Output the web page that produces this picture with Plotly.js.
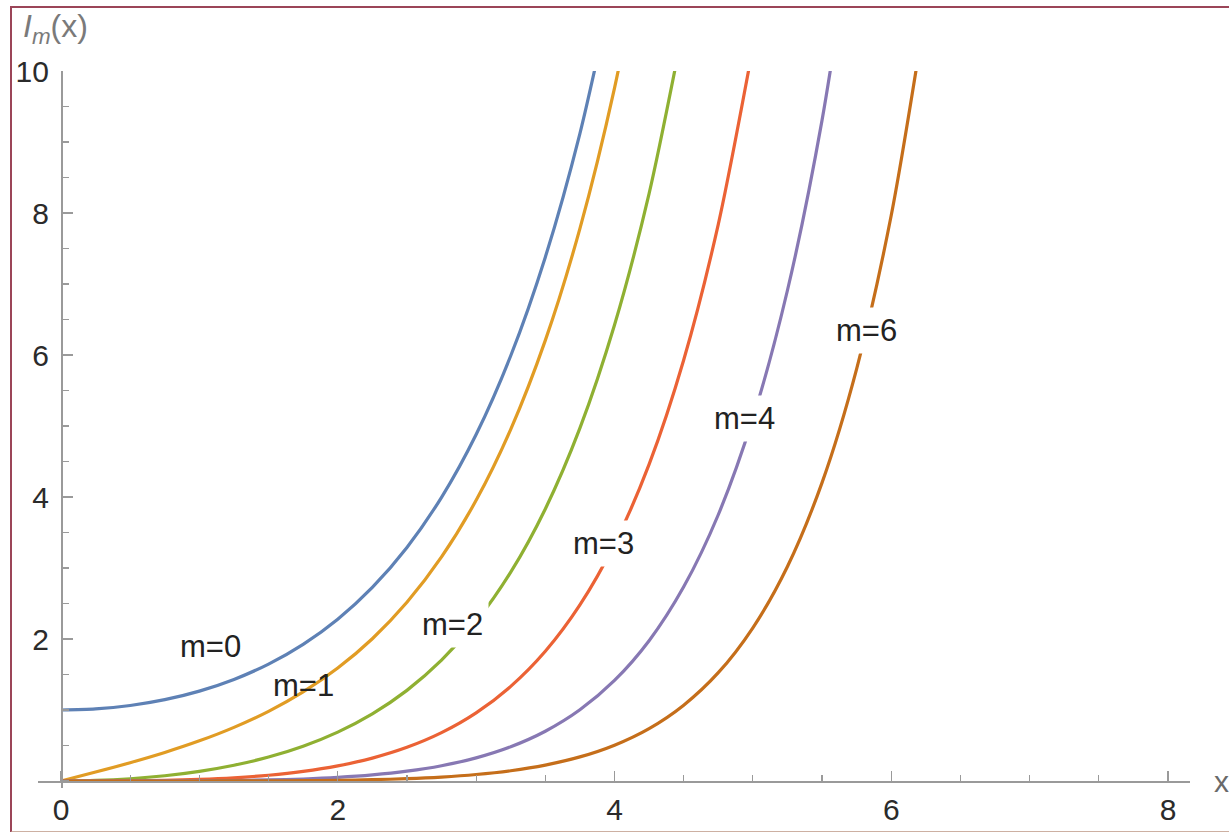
<!DOCTYPE html>
<html>
<head>
<meta charset="utf-8">
<script src="https://cdn.plot.ly/plotly-3.0.1.min.js"></script>
<style>
  html, body { margin: 0; padding: 0; background: #fff; overflow: hidden; }
  #wrap { position: relative; width: 1229px; height: 832px; }
  #chart { width: 1229px; height: 832px; }
  #frame { position: absolute; left: 10px; top: 6px; width: 1240px; height: 823px;
           border-left: 2px solid #9b4558; border-top: 2px solid #9b4558;
           border-bottom: 2px solid #cdb0a2; pointer-events: none; }
</style>
</head>
<body>
<div id="wrap">
  <div id="chart"></div>
  <div id="frame"></div>
</div>
<script>
// x sample points (shared by all curves)
const xs = [0, 0.25, 0.5, 0.75, 1, 1.25, 1.5, 1.75, 2, 2.25, 2.5, 2.75, 3, 3.25, 3.5, 3.75, 4, 4.25, 4.5, 4.75, 5, 5.25, 5.5, 5.75, 6, 6.25];

// curve values (null = beyond the top of the plot)
const m0 = [1, 1.0157, 1.0635, 1.1456, 1.2661, 1.4305, 1.6467, 1.9253, 2.2796, 2.7271, 3.2898, 3.9959, 4.8808, 5.9893, 7.3782, 9.1189, 11.3019, null, null, null, null, null, null, null, null, null];
const m1 = [0, 0.1260, 0.2579, 0.4020, 0.5652, 0.7553, 0.9817, 1.2555, 1.5906, 2.0040, 2.5167, 3.1554, 3.9534, 4.9525, 6.2058, 7.7800, 9.7595, 12.252, null, null, null, null, null, null, null, null];
const m2 = [0, 0.0079, 0.0319, 0.0737, 0.1357, 0.2220, 0.3378, 0.4904, 0.6889, 0.9458, 1.2764, 1.7011, 2.2452, 2.9416, 3.8320, 4.9696, 6.4222, 8.274, 10.642, null, null, null, null, null, null, null];
const m3 = [0, 0.0003, 0.0026, 0.0091, 0.0222, 0.0448, 0.0808, 0.1347, 0.2127, 0.3226, 0.4743, 0.6811, 0.9598, 1.3321, 1.8264, 2.4791, 3.3373, 4.460, 5.930, 7.841, 10.331, null, null, null, null, null];
const m4 = [0, 0.0000, 0.0002, 0.0009, 0.0027, 0.0069, 0.0147, 0.0284, 0.0507, 0.0855, 0.1380, 0.2150, 0.3257, 0.4824, 0.7010, 1.0030, 1.4163, 1.976, 2.7349, 3.750, 5.1082, 6.912, 9.308, 12.47, null, null];
const m6 = [0, 0.0000, 0.0000, 0.0001, 0.0003, 0.0008, 0.0022, 0.0049, 0.0098, 0.0185, 0.0328, 0.0558, 0.0912, 0.1447, 0.2240, 0.3393, 0.5047, 0.7383, 1.0681, 1.5255, 2.1580, 3.022, 4.203, 5.805, 7.9684, 10.874];

const seriesNames = ["m=0", "m=1", "m=2", "m=3", "m=4", "m=6"];
const seriesValues = [m0, m1, m2, m3, m4, m6];
const colors = ["#5E81B5", "#E19C24", "#8FB032", "#EB6235", "#8778B3", "#C56E1A"];

// curve label positions (data coords) and whether they mask the line
const labelX = [1.08, 1.75, 2.83, 3.92, 4.94, 5.82];
const labelY = [1.90, 1.34, 2.20, 3.35, 5.11, 6.34];
const labelMask = [false, false, true, true, true, true];

const xTickVals = [0, 2, 4, 6, 8];
const yTickVals = [2, 4, 6, 8, 10];

const xRange = [-0.1662, 8.159];
const yRange = [-0.0986, 10];

const traces = seriesValues.map((vals, i) => ({
  type: "scatter",
  mode: "lines",
  name: seriesNames[i],
  x: xs,
  y: vals,
  line: { color: colors[i], width: 3.2, shape: "spline", smoothing: 0.8 },
  connectgaps: false,
  hoverinfo: "skip"
}));

const axisFont = { family: "Liberation Sans, Arial, sans-serif", size: 30, color: "#2b2b2b" };

const annotations = seriesNames.map((n, i) => ({
  x: labelX[i], y: labelY[i], xref: "x", yref: "y",
  text: n, showarrow: false,
  font: { family: "Liberation Sans, Arial, sans-serif", size: 31, color: "#222" },
  bgcolor: labelMask[i] ? "#ffffff" : "rgba(0,0,0,0)",
  borderpad: labelMask[i] ? 5 : 0,
  xanchor: "center", yanchor: "middle"
}));

annotations.push({
  xref: "paper", yref: "paper",
  x: -0.015, y: 1.0, xanchor: "left", yanchor: "bottom",
  yshift: 20,
  text: "<i>I</i><sub><i>m</i></sub>(x)",
  showarrow: false,
  font: { family: "Liberation Sans, Arial, sans-serif", size: 32, color: "#7a7a7a" }
});
annotations.push({
  xref: "paper", yref: "y",
  x: 1.0, y: 0, xanchor: "left", yanchor: "middle",
  xshift: 22,
  text: "x",
  showarrow: false,
  font: { family: "Liberation Sans, Arial, sans-serif", size: 30, color: "#6a6a6a" }
});

const layout = {
  width: 1229, height: 832,
  margin: { l: 38, r: 39, t: 71, b: 44, pad: 0 },
  paper_bgcolor: "rgba(0,0,0,0)",
  plot_bgcolor: "rgba(0,0,0,0)",
  showlegend: false,
  xaxis: {
    range: xRange,
    anchor: "free",
    position: (0 - yRange[0]) / (yRange[1] - yRange[0]),
    showgrid: false, zeroline: false,
    showline: true, linecolor: "#9a9a9a", linewidth: 1.6,
    tickmode: "array", tickvals: xTickVals, ticktext: xTickVals.map(String),
    ticks: "inside", ticklen: 10, tickwidth: 1.4, tickcolor: "#9a9a9a",
    minor: { dtick: 0.5, tick0: 0, ticks: "inside", ticklen: 6, tickwidth: 1.2, tickcolor: "#9a9a9a", showgrid: false },
    ticklabelstandoff: 1,
    tickfont: axisFont
  },
  yaxis: {
    range: yRange,
    anchor: "free",
    position: (0 - xRange[0]) / (xRange[1] - xRange[0]),
    showgrid: false, zeroline: false,
    showline: true, linecolor: "#9a9a9a", linewidth: 1.6,
    tickmode: "array", tickvals: yTickVals, ticktext: yTickVals.map(String),
    ticks: "inside", ticklen: 10, tickwidth: 1.4, tickcolor: "#9a9a9a",
    minor: { dtick: 0.5, tick0: 0, ticks: "inside", ticklen: 6, tickwidth: 1.2, tickcolor: "#9a9a9a", showgrid: false },
    ticklabelstandoff: 6,
    tickfont: axisFont
  },
  annotations: annotations
};

Plotly.newPlot("chart", traces, layout, { displayModeBar: false, staticPlot: true });
</script>
</body>
</html>
